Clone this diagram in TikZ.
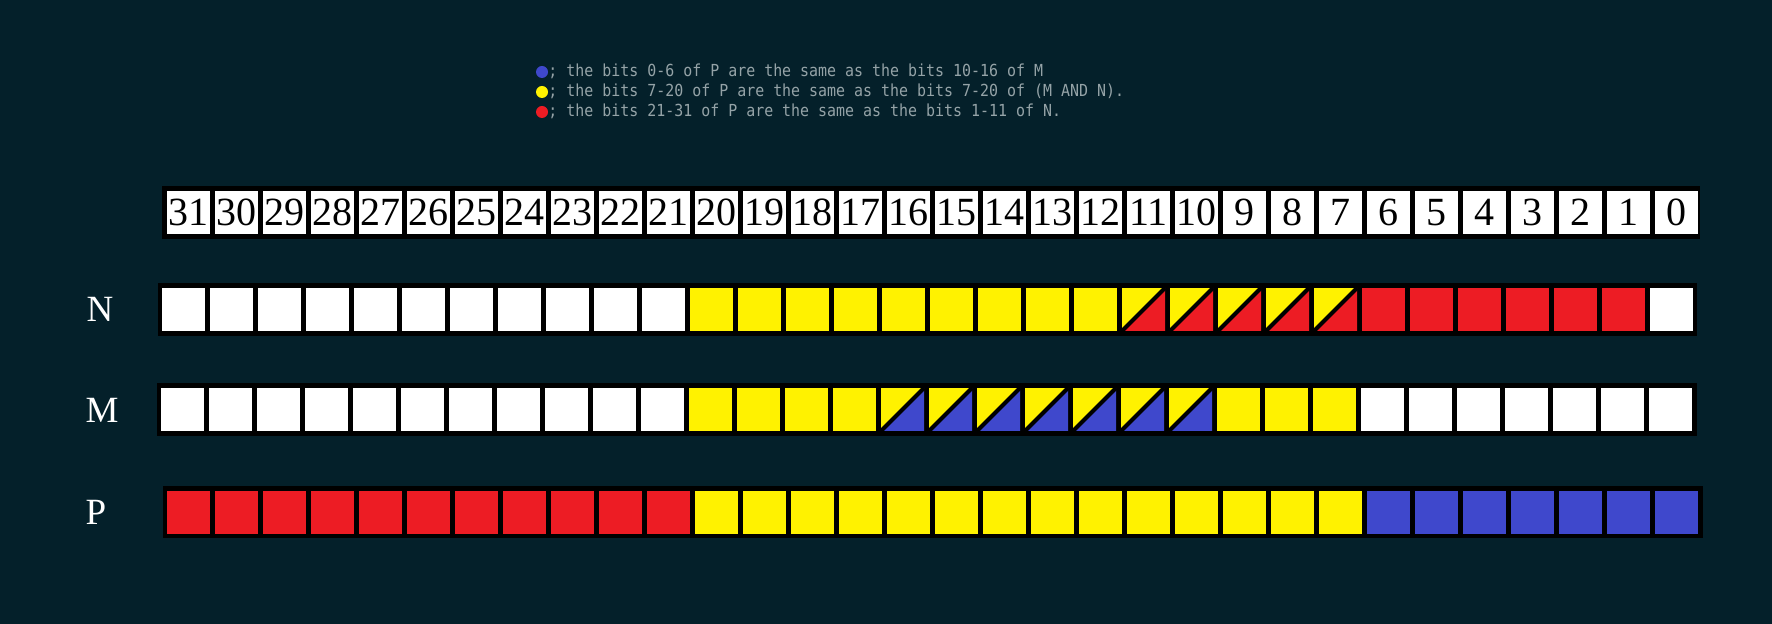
\documentclass[tikz,border=0pt]{standalone}
\usepackage{fontspec}
\setmainfont{Liberation Serif}
\newfontfamily\legendfont[FakeStretch=0.9]{DejaVu Sans Mono}
\definecolor{bgdark}{HTML}{04202A}
\definecolor{bityellow}{HTML}{FFF200}
\definecolor{bitred}{HTML}{ED1C24}
\definecolor{bitblue}{HTML}{3F48CC}
\definecolor{legendgray}{HTML}{95A3A7}
\tikzset{
  cell/.style={rectangle,inner sep=0pt,outer sep=0pt,minimum size=21.5pt,fill=white},
  diag/.style={line width=2pt,black},
  rowframe/.style={fill=black},
  rowlabel/.style={text=white,inner sep=0pt,font=\fontsize{18.5}{20}\selectfont},
  bitnum/.style={font=\fontsize{20}{22}\selectfont},
  dot/.style={circle,inner sep=0pt,minimum size=6pt},
  legend/.style={text=legendgray,inner sep=0pt,anchor=base west,font=\legendfont\fontsize{8.3}{9}\selectfont},
}
\begin{document}
\begin{tikzpicture}[x=0.5pt,y=-0.5pt]
\fill[bgdark] (0,0) rectangle (1772,624);
% legend
\node[dot,fill=bitblue] (dotblue) at (542,72) {};
\node[dot,fill=bityellow] (dotyellow) at (542,92) {};
\node[dot,fill=bitred] (dotred) at (542,112) {};
\node[legend] (legblue) at (548,77) {; the bits 0-6 of P are the same as the bits 10-16 of M};
\node[legend] (legyellow) at (548,97) {; the bits 7-20 of P are the same as the bits 7-20 of (M AND N).};
\node[legend] (legred) at (548,117) {; the bits 21-31 of P are the same as the bits 1-11 of N.};
% bit numbers
\fill[rowframe] (162,186) rectangle (1700,239);
\foreach \b in {0,...,31}
  \node[cell,bitnum] (i\b) at ({188.5+48*(31-\b)},212.5) {\b};
% N
\node[rowlabel] (labN) at (100,309) {N};
\fill[rowframe] (158,283) rectangle (1697,336);
\foreach \b in {31,...,21}
  \node[cell] (n\b) at ({183.5+48*(31-\b)},309.5) {};
\foreach \b in {20,...,12}
  \node[cell,fill=bityellow] (n\b) at ({183.5+48*(31-\b)},309.5) {};
\foreach \b in {11,...,7} {
  \node[cell,fill=bityellow] (n\b) at ({183.5+48*(31-\b)},309.5) {};
  \fill[bitred] (n\b.south west) -- (n\b.south east) -- (n\b.north east) -- cycle;
  \draw[diag] (n\b.south west) -- (n\b.north east);
}
\foreach \b in {6,...,1}
  \node[cell,fill=bitred] (n\b) at ({183.5+48*(31-\b)},309.5) {};
\node[cell] (n0) at ({183.5+48*31},309.5) {};
% M
\node[rowlabel] (labM) at (102,410) {M};
\fill[rowframe] (157,383) rectangle (1697,436);
\foreach \b in {31,...,21}
  \node[cell] (m\b) at ({182.5+48*(31-\b)},409.5) {};
\foreach \b in {20,...,17}
  \node[cell,fill=bityellow] (m\b) at ({182.5+48*(31-\b)},409.5) {};
\foreach \b in {16,...,10} {
  \node[cell,fill=bityellow] (m\b) at ({182.5+48*(31-\b)},409.5) {};
  \fill[bitblue] (m\b.south west) -- (m\b.south east) -- (m\b.north east) -- cycle;
  \draw[diag] (m\b.south west) -- (m\b.north east);
}
\foreach \b in {9,...,7}
  \node[cell,fill=bityellow] (m\b) at ({182.5+48*(31-\b)},409.5) {};
\foreach \b in {6,...,0}
  \node[cell] (m\b) at ({182.5+48*(31-\b)},409.5) {};
% P
\node[rowlabel] (labP) at (96,512) {P};
\fill[rowframe] (163,486) rectangle (1703,538);
\foreach \b in {31,...,21}
  \node[cell,fill=bitred] (p\b) at ({188.5+48*(31-\b)},512.5) {};
\foreach \b in {20,...,7}
  \node[cell,fill=bityellow] (p\b) at ({188.5+48*(31-\b)},512.5) {};
\foreach \b in {6,...,0}
  \node[cell,fill=bitblue] (p\b) at ({188.5+48*(31-\b)},512.5) {};
\end{tikzpicture}
\end{document}
